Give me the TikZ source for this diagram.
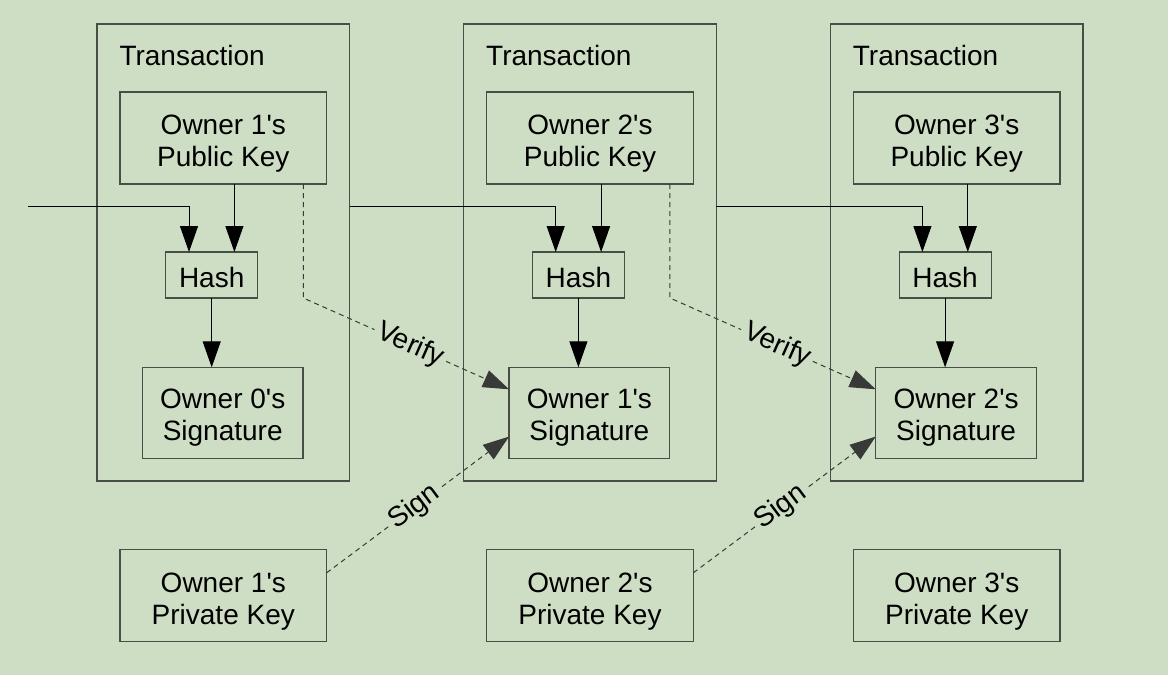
\documentclass[tikz,border=0pt]{standalone}
\usepackage{fontspec}
\setmainfont{Liberation Sans}[Ligatures=TeXOff]
\usetikzlibrary{arrows.meta,calc}

\definecolor{bg}{RGB}{206,222,196}
\definecolor{edge}{RGB}{72,78,70}
\definecolor{dashcol}{RGB}{55,58,55}

% two centred lines whose last baseline sits #1 below the node centre
\newcommand\boxlines[3]{\smash{\raisebox{-#1}{\begin{tabular}[b]{@{}c@{}}#2\\#3\end{tabular}}}}
% one line whose baseline sits #1 below the node centre
\newcommand\boxline[2]{\smash{\raisebox{-#1}{#2}}}

\begin{document}
\begin{tikzpicture}[x=1pt,y=-1pt,
  font=\fontsize{28}{31.7}\selectfont,
  every node/.style={inner sep=0pt, outer sep=0pt},
  frame/.style={draw=edge, line width=1.2pt, rectangle},
  txbox/.style={frame, minimum width=252.5pt, minimum height=457pt},
  keybox/.style={frame, minimum width=206.7pt, minimum height=92pt},
  hashbox/.style={frame, minimum width=92pt, minimum height=46pt},
  sigbox/.style={frame, minimum width=160.7pt, minimum height=91pt},
  tip/.style={-{Triangle[length=26pt,width=18pt]}},
  conn/.style={draw=black, line width=1pt, tip},
  dconn/.style={draw=dashcol, line width=1pt, dash pattern=on 5pt off 4pt, tip},
  tag/.style={fill=bg, inner sep=4pt, sloped}
]
\fill[bg] (0,0) rectangle (1168,675);
\useasboundingbox (0,0) rectangle (1168,675);

% the three transactions and the private keys below them
\foreach \i/\o in {1/0,2/1,3/2} {
  \pgfmathsetmacro\dx{(\i-1)*366.7}
  \node[txbox] (tx\i) at (\dx+223.25, 252.5) {};
  \node[anchor=base west] (title\i) at (\dx+119.5, 65.7) {Transaction};
  \node[keybox] (pk\i) at (\dx+223.3, 138) {\boxlines{28.5pt}{Owner \i's}{Public Key}};
  \node[hashbox] (hash\i) at (\dx+211.7, 275) {\boxline{12.3pt}{Hash}};
  \node[sigbox] (sig\i) at (\dx+222.7, 412.8) {\boxlines{27.5pt}{Owner \o's}{Signature}};
  \node[keybox] (priv\i) at (\dx+223.3, 595.8) {\boxlines{28.5pt}{Owner \i's}{Private Key}};
  \coordinate (a\i) at ($(hash\i.north)+(-22.7,0)$);
  \coordinate (b\i) at ($(hash\i.north)+(22.7,0)$);
  \draw[conn] (pk\i.south -| b\i) -- (b\i);
  \draw[conn] (hash\i.south) -- (hash\i.south |- sig\i.north);
}

% hash chain from the previous transaction into each hash
\coordinate (in) at (28, 206.7);
\draw[conn] (in) -| (a1);
\draw[conn] (tx1.east |- in) -| (a2);
\draw[conn] (tx2.east |- in) -| (a3);

% verification with the public key, signing with the private key
\foreach \i/\j in {1/2,2/3} {
  \coordinate (v\i) at ($(pk\i.south east)+(-23.4,0)$);
  \draw[dconn] (v\i) -- (v\i |- hash\i.south)
    -- node[tag, pos=0.52] {Verify} ($(sig\j.west)+(0,-23.5)$);
  \draw[dconn] ($(priv\i.east)+(0,-23)$)
    -- node[tag, pos=0.48] {Sign} ($(sig\j.west)+(0,23.8)$);
}
\end{tikzpicture}
\end{document}
